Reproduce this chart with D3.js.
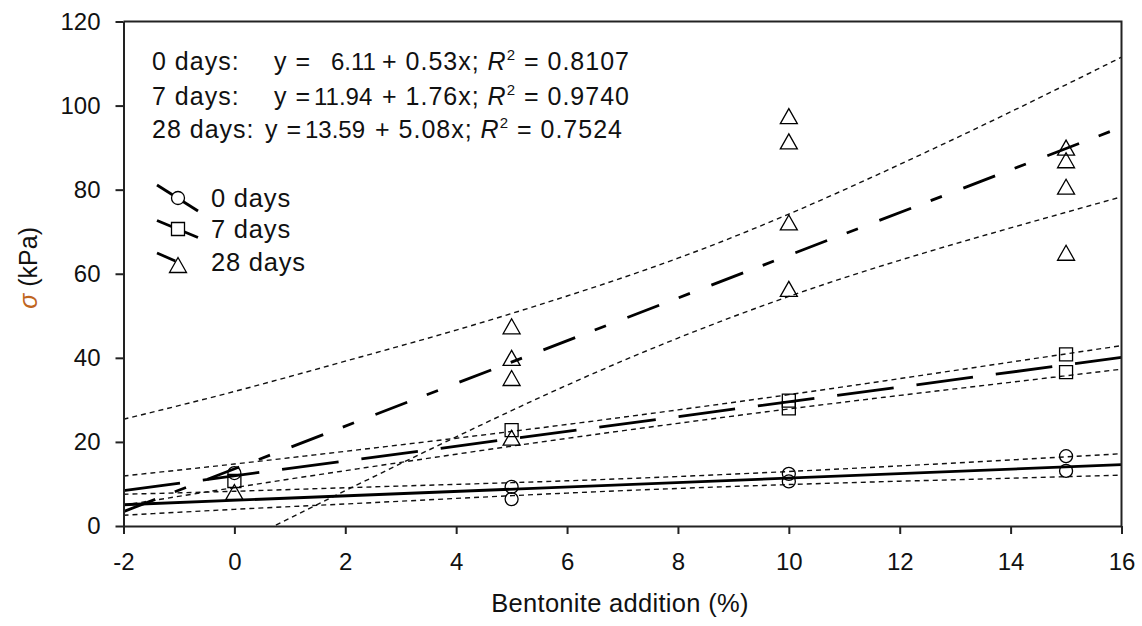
<!DOCTYPE html>
<html>
<head>
<meta charset="utf-8">
<script src="https://cdn.jsdelivr.net/npm/d3@7"></script>
<style>
  body { margin: 0; background: #fff; }
  svg text { font-family: "Liberation Sans", Arial, sans-serif; }
</style>
</head>
<body>
<svg id="chart" width="1142" height="626"></svg>
<script>
// ---- data ----
const xTicks = [-2, 0, 2, 4, 6, 8, 10, 12, 14, 16];
const yTicks = [0, 20, 40, 60, 80, 100, 120];

const seriesNames = ["0 days", "7 days", "28 days"];
const intercepts = [6.11, 11.94, 13.59];
const slopes = [0.53, 1.76, 5.08];
const r2Labels = ["0.8107", "0.9740", "0.7524"];

// measured points
const x0 = [0, 5, 5, 10, 10, 15, 15];
const y0 = [12.6, 9.3, 6.4, 12.4, 10.6, 16.6, 13.1];
const x7 = [0, 5, 10, 10, 15, 15];
const y7 = [10.7, 22.8, 29.8, 28.0, 40.8, 36.6];
const x28 = [0, 5, 5, 5, 5, 10, 10, 10, 10, 15, 15, 15, 15];
const y28 = [8.1, 47.5, 40.0, 35.2, 21.0, 97.5, 91.5, 72.2, 56.4, 90.0, 87.0, 80.7, 65.0];

// 95% confidence bands (dotted), read at these x
const bandX = [-2, 0, 2, 4, 6, 8, 10, 12, 14, 16];
const upper0 = [7.55, 8.26, 9.1, 9.9, 10.75, 11.77, 12.96, 14.29, 15.7, 17.2];
const lower0 = [2.55, 3.96, 5.24, 6.56, 7.83, 8.93, 9.86, 10.65, 11.36, 12.1];
const upper7 = [11.9, 14.74, 17.76, 20.88, 24.15, 27.62, 31.24, 35.06, 38.98, 42.9];
const lower7 = [4.95, 9.14, 13.16, 17.08, 20.85, 24.42, 27.84, 31.06, 34.18, 37.3];
const upper28 = [25.4, 32.0, 39.2, 46.6, 54.7, 63.7, 74.2, 86.0, 98.5, 111.5];
const lower28 = [-18.3, -4.8, 8.4, 21.2, 33.5, 44.7, 54.6, 63.2, 70.9, 78.3];

// ---- chart ----
const svg = d3.select("#chart");
const padL = 123.5, padR = 1121.5, padT = 21.5, padB = 526;

const x = d3.scaleLinear().domain([-2, 16]).range([padL, padR]);
const y = d3.scaleLinear().domain([0, 120]).range([padB, padT]);

svg.append("defs").append("clipPath").attr("id", "plot")
  .append("rect")
  .attr("x", padL).attr("y", padT)
  .attr("width", padR - padL).attr("height", padB - padT);

const plot = svg.append("g").attr("clip-path", "url(#plot)");

// confidence bands
const bandLine = d3.line()
  .x((d, i) => x(bandX[i]))
  .y(d => y(d))
  .curve(d3.curveNatural);

[upper0, lower0, upper7, lower7, upper28, lower28].forEach(b => {
  plot.append("path")
    .attr("d", bandLine(b))
    .attr("fill", "none")
    .attr("stroke", "#111")
    .attr("stroke-width", 1.4)
    .attr("stroke-dasharray", "5,4");
});

// regression lines
const dashes = [null, "57,23", "34,21,12,23"];
seriesNames.forEach((s, i) => {
  const ends = [-2, 16];
  plot.append("path")
    .attr("d", d3.line()(ends.map(v => [x(v), y(intercepts[i] + slopes[i] * v)])))
    .attr("fill", "none")
    .attr("stroke", "#000")
    .attr("stroke-width", 2.8)
    .attr("stroke-dasharray", dashes[i]);
});

// markers
const trianglePath = "M0,-7.5L8.5,7.5L-8.5,7.5Z";
const squarePath = "M-6.5,-6.5H6.5V6.5H-6.5Z";

function marker(g, kind) {
  if (kind === 0) return g.append("circle").attr("r", 6.5);
  if (kind === 1) return g.append("path").attr("d", squarePath);
  return g.append("path").attr("d", trianglePath);
}

[[x0, y0], [x7, y7], [x28, y28]].forEach(([xs, ys], k) => {
  xs.forEach((xv, j) => {
    const g = svg.append("g").attr("transform", "translate(" + x(xv) + "," + y(ys[j]) + ")");
    marker(g, k).attr("fill", "none").attr("stroke", "#000").attr("stroke-width", 1.3);
  });
});

// axes
const yAxis = d3.axisLeft(y).tickValues(yTicks).tickSize(8).tickSizeOuter(0).tickPadding(15);
const xAxis = d3.axisBottom(x).tickValues(xTicks).tickSize(8).tickSizeOuter(0).tickPadding(19)
  .tickFormat(d => String(d));

const gy = svg.append("g").attr("transform", "translate(" + padL + ",0)").call(yAxis);
const gx = svg.append("g").attr("transform", "translate(0," + padB + ")").call(xAxis);

[gx, gy].forEach(g => {
  g.select(".domain").attr("stroke", "#222").attr("stroke-width", 2);
  g.selectAll(".tick line").attr("stroke", "#222").attr("stroke-width", 2);
  g.selectAll(".tick text").attr("font-size", 24).attr("fill", "#111")
    .attr("font-family", "'Liberation Sans', Arial, sans-serif");
});

// top and right frame
svg.append("path")
  .attr("d", "M" + padL + "," + padT + "H" + padR + "V" + padB)
  .attr("fill", "none").attr("stroke", "#222").attr("stroke-width", 2);

// axis titles
svg.append("text")
  .attr("x", 620).attr("y", 612)
  .attr("text-anchor", "middle").attr("font-size", 25.5).attr("letter-spacing", 0.3)
  .attr("fill", "#111")
  .text("Bentonite addition (%)");

const yTitle = svg.append("text")
  .attr("transform", "translate(37,227) rotate(-90)")
  .attr("text-anchor", "end").attr("font-size", 25).attr("fill", "#111");
yTitle.append("tspan").attr("font-style", "italic").attr("fill", "#c0651e").text("σ");
yTitle.append("tspan").text(" (kPa)");

// equations
const eqBase = [70, 104.5, 138];
const eqLabel = ["0 days:", "7 days:", "28 days:"];
const colY = [274, 274, 265];
const colA = [331, 314, 305];
const colPlus = [382, 382, 375];
seriesNames.forEach((s, i) => {
  const by = eqBase[i];
  const t = (xp, str) => svg.append("text").attr("x", xp).attr("y", by)
    .attr("font-size", 25).attr("letter-spacing", 1).attr("fill", "#111").text(str);
  t(152, eqLabel[i]);
  t(colY[i], "y =");
  t(colA[i], intercepts[i].toFixed(2)).attr("letter-spacing", 0).attr("font-size", 24);
  const rest = t(colPlus[i], "+ " + slopes[i].toFixed(2) + "x; ");
  rest.append("tspan").attr("font-style", "italic").text("R");
  rest.append("tspan").attr("font-size", 15).attr("dy", -10).text("2");
  rest.append("tspan").attr("dy", 10).text(" = " + r2Labels[i]);
});

// legend
const legY = [198, 229, 262];
const legDy = [13, 8.5, 9];
seriesNames.forEach((s, i) => {
  const cy = legY[i];
  svg.append("line")
    .attr("x1", 157).attr("y1", cy - legDy[i])
    .attr("x2", 198).attr("y2", cy + legDy[i])
    .attr("stroke", "#000").attr("stroke-width", 2.8)
    .attr("stroke-dasharray", i === 2 ? "20,40" : null);
  const g = svg.append("g").attr("transform", "translate(178," + (cy + (i === 2 ? 3 : 0)) + ")");
  marker(g, i).attr("fill", "#fff").attr("stroke", "#000").attr("stroke-width", 1.3);
  svg.append("text").attr("x", 211).attr("y", cy + 9)
    .attr("font-size", 25.5).attr("letter-spacing", 0.8).attr("fill", "#111").text(s);
});
</script>
</body>
</html>
